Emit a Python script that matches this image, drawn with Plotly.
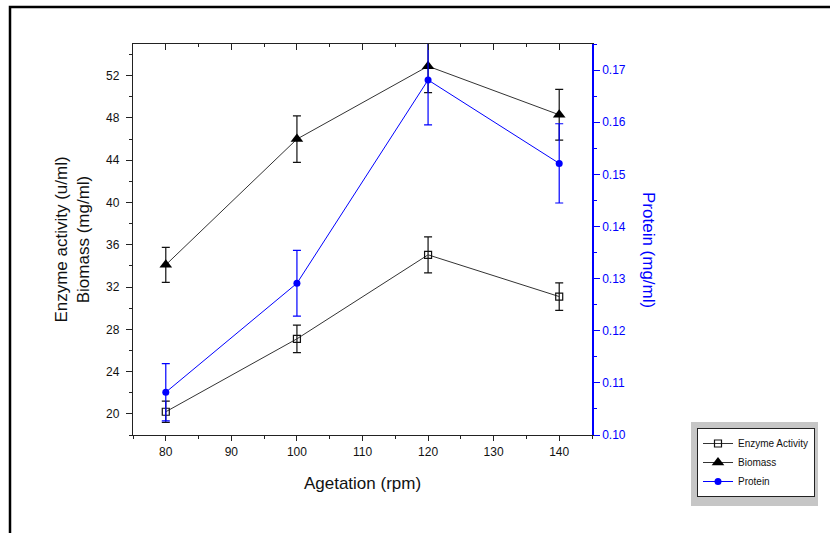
import plotly.graph_objects as go

# ---- data ----
rpm = [80, 100, 120, 140]
enzyme = [20.2, 27.1, 35.05, 31.1]
enzyme_err = [1.0, 1.3, 1.7, 1.3]
biomass = [34.1, 46.0, 52.9, 48.3]
biomass_err = [1.65, 2.2, 2.5, 2.4]
protein = [0.1082, 0.1291, 0.1681, 0.1521]
protein_err = [0.0055, 0.0063, 0.0086, 0.0076]

x_ticks = [80, 90, 100, 110, 120, 130, 140]

FONT = "Arial, Liberation Sans, sans-serif"
BLUE = "#0000ff"
DARK = "#222222"
TITLE_SIZE = 17

fig = go.Figure()

fig.add_trace(go.Scatter(
    x=rpm, y=enzyme, name="Enzyme Activity", mode="lines+markers",
    line=dict(color="#333333", width=1),
    marker=dict(symbol="square-open", size=7, color="#111111", line=dict(width=1.2)),
    error_y=dict(type="data", array=enzyme_err, color="#111111", thickness=1.2, width=4),
    cliponaxis=False,
))
fig.add_trace(go.Scatter(
    x=rpm, y=biomass, name="Biomass", mode="lines+markers",
    line=dict(color="#333333", width=1),
    marker=dict(symbol="triangle-up", size=11, color="#000000"),
    error_y=dict(type="data", array=biomass_err, color="#111111", thickness=1.2, width=4),
    cliponaxis=False,
))
fig.add_trace(go.Scatter(
    x=rpm, y=protein, name="Protein", mode="lines+markers", yaxis="y2",
    line=dict(color=BLUE, width=1),
    marker=dict(symbol="circle", size=7, color=BLUE),
    error_y=dict(type="data", array=protein_err, color=BLUE, thickness=1.2, width=4),
    cliponaxis=False,
))
# invisible helper trace so the top (mirror) axis is drawn
fig.add_trace(go.Scatter(
    x=rpm, y=enzyme, xaxis="x2", mode="markers", marker=dict(opacity=0),
    showlegend=False, hoverinfo="skip",
))

W, H = 830, 533
L, R, T, B = 133, 238, 44, 98
pw, ph = W - L - R, H - T - B

def px_x(x):
    return (x - L) / pw

def px_y(y):
    return (H - B - y) / ph

fig.update_layout(
    width=W, height=H,
    margin=dict(l=L, r=R, t=T, b=B, pad=0),
    paper_bgcolor="white", plot_bgcolor="white",
    font=dict(family=FONT, size=12, color="#111111"),
    xaxis=dict(
        range=[75, 145], tickvals=x_ticks, ticks="outside", ticklen=5, tickwidth=1.3,
        tickcolor=DARK, showline=True, linecolor=DARK, linewidth=1.3,
        showgrid=False, zeroline=False,
        minor=dict(dtick=5, tick0=0, ticks="outside", ticklen=3, tickwidth=1.3, tickcolor=DARK, showgrid=False),
        title=dict(text="Agetation (rpm)", font=dict(size=TITLE_SIZE), standoff=19),
        tickfont=dict(size=12),
    ),
    xaxis2=dict(
        range=[75, 145], overlaying="x", side="top", anchor="y",
        tickvals=x_ticks, ticks="inside", ticklen=6, tickwidth=1.3, tickcolor=DARK,
        showticklabels=False, showline=True, linecolor=DARK, linewidth=1.3,
        showgrid=False, zeroline=False,
        minor=dict(dtick=5, tick0=0, ticks="inside", ticklen=3, tickwidth=1.3, tickcolor=DARK, showgrid=False),
    ),
    yaxis=dict(
        range=[18, 55], dtick=4, tick0=0, ticks="outside", ticklen=6, tickwidth=1.3,
        tickcolor=DARK, showline=True, linecolor=DARK, linewidth=1.3,
        showgrid=False, zeroline=False, ticklabelstandoff=4,
        minor=dict(dtick=2, tick0=0, ticks="outside", ticklen=3, tickwidth=1.3, tickcolor=DARK, showgrid=False),
        title=dict(text="Enzyme activity (u/ml)<br>Biomass (mg/ml)", font=dict(size=TITLE_SIZE), standoff=12),
        tickfont=dict(size=12),
    ),
    yaxis2=dict(
        range=[0.10, 0.175], overlaying="y", side="right", anchor="x",
        dtick=0.01, tick0=0, tickformat=".2f", ticks="outside", ticklen=6, tickwidth=1.3,
        tickcolor=BLUE, showline=True, linecolor=BLUE, linewidth=1.5,
        showgrid=False, zeroline=False,
        minor=dict(dtick=0.005, tick0=0, ticks="outside", ticklen=3, tickwidth=1.3, tickcolor=BLUE, showgrid=False),
        tickfont=dict(size=12, color=BLUE),
    ),
    legend=dict(
        x=px_x(697), y=px_y(428), xanchor="left", yanchor="top",
        bgcolor="white", bordercolor="#222222", borderwidth=1,
        font=dict(size=10, family=FONT, color="#111111"), itemwidth=30,
        tracegroupgap=0,
    ),
    annotations=[
        dict(text="Protein (mg/ml)", xref="paper", yref="paper",
             x=px_x(648), y=px_y(250), xanchor="center", yanchor="middle",
             textangle=90, showarrow=False,
             font=dict(size=TITLE_SIZE, color=BLUE, family=FONT)),
    ],
    shapes=[
        # outer frame of the figure
        dict(type="rect", xref="paper", yref="paper",
             x0=px_x(10), x1=px_x(845), y0=px_y(545), y1=px_y(7),
             line=dict(color="black", width=2.5), fillcolor="rgba(0,0,0,0)", layer="below"),
        # grey frame behind the legend
        dict(type="rect", xref="paper", yref="paper",
             x0=px_x(691), x1=px_x(818), y0=px_y(506), y1=px_y(422),
             line=dict(width=0), fillcolor="#c6c6c6", layer="below"),
    ],
    showlegend=True,
)

fig.write_html("out.html")
